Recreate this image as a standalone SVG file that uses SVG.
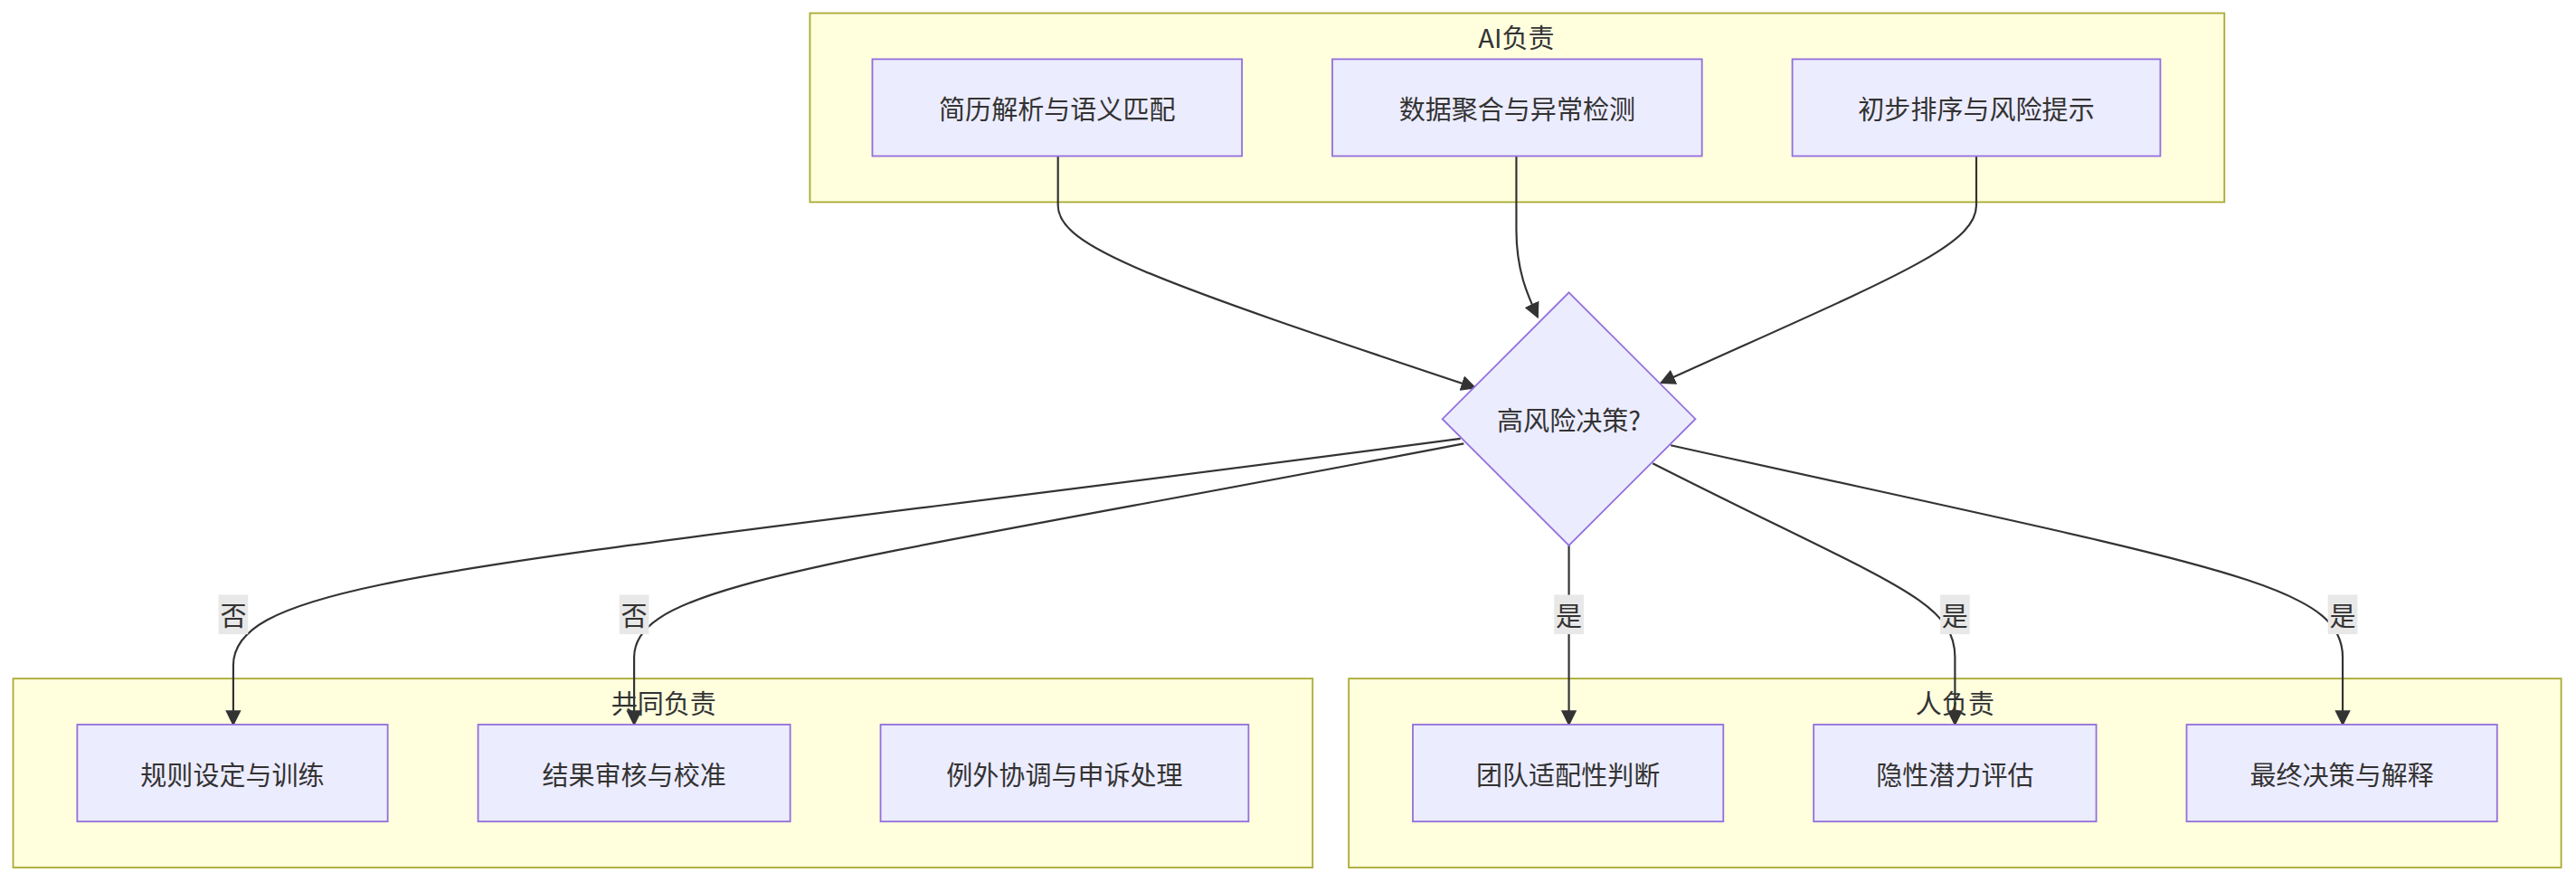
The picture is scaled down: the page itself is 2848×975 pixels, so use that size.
<svg xmlns="http://www.w3.org/2000/svg" width="2848" height="975" viewBox="0 0 2848 975">
<defs>
<style>
.cl{fill:#ffffde;stroke:#aaaa33;stroke-width:1}
.nd{fill:#ECECFF;stroke:#9370DB;stroke-width:1}
text{font-family:"Noto Sans CJK SC","Liberation Sans",sans-serif;font-size:16px;fill:#333;text-anchor:middle;dominant-baseline:central}
.e{fill:none;stroke:#333;stroke-width:1.2}
.lb{fill:#e8e8e8}
</style>
<marker id="ah" viewBox="0 0 10 10" refX="9" refY="5" markerWidth="8" markerHeight="8" orient="auto"><path d="M0,0 L10,5 L0,10 z" fill="#333"/></marker>
</defs>
<rect width="2848" height="975" fill="#fff"/>
<g transform="scale(1.8163)">
<g id="cluster-ai"><rect class="cl" x="493" y="8" width="861" height="115"/><text x="923" y="22">AI负责</text></g>
<g id="cluster-shared"><rect class="cl" x="8" y="413" width="791" height="115"/><text x="404" y="427">共同负责</text></g>
<g id="cluster-human"><rect class="cl" x="821" y="413" width="738" height="115"/><text x="1190" y="427">人负责</text></g>
<g id="connectors">
<path class="e" marker-end="url(#ah)" d="M644,95 L644,125 C644,150 700,170 898,236"/>
<path class="e" marker-end="url(#ah)" d="M923,95 L923,140 C923,165 930,180 936,193"/>
<path class="e" marker-end="url(#ah)" d="M1203,95 L1203,125 C1203,150 1150,170 1011,233"/>
<path class="e" marker-end="url(#ah)" d="M889,267 C300,345 142,350 142,405 L142,441"/>
<path class="e" marker-end="url(#ah)" d="M891,270 C500,345 386,355 386,400 L386,441"/>
<path class="e" marker-end="url(#ah)" d="M955,332 L955,441"/>
<path class="e" marker-end="url(#ah)" d="M1006,282 C1150,355 1190,365 1190,400 L1190,441"/>
<path class="e" marker-end="url(#ah)" d="M1017,271 C1350,345 1426,355 1426,400 L1426,441"/>
<rect class="lb" x="133" y="362" width="18" height="24"/><text x="142" y="374">否</text>
<rect class="lb" x="377" y="362" width="18" height="24"/><text x="386" y="374">否</text>
<rect class="lb" x="946" y="362" width="18" height="24"/><text x="955" y="374">是</text>
<rect class="lb" x="1181" y="362" width="18" height="24"/><text x="1190" y="374">是</text>
<rect class="lb" x="1417" y="362" width="18" height="24"/><text x="1426" y="374">是</text>
</g>
<g id="n1"><rect class="nd" x="531" y="36" width="225" height="59"/><text x="643.5" y="65.5">简历解析与语义匹配</text></g>
<g id="n2"><rect class="nd" x="811" y="36" width="225" height="59"/><text x="923.5" y="65.5">数据聚合与异常检测</text></g>
<g id="n3"><rect class="nd" x="1091" y="36" width="224" height="59"/><text x="1203" y="65.5">初步排序与风险提示</text></g>
<g id="decision"><polygon class="nd" points="955,178 1032,255 955,332 878,255"/><text x="955" y="255">高风险决策?</text></g>
<g id="s1"><rect class="nd" x="47" y="441" width="189" height="59"/><text x="141.5" y="470.5">规则设定与训练</text></g>
<g id="s2"><rect class="nd" x="291" y="441" width="190" height="59"/><text x="386" y="470.5">结果审核与校准</text></g>
<g id="s3"><rect class="nd" x="536" y="441" width="224" height="59"/><text x="648" y="470.5">例外协调与申诉处理</text></g>
<g id="h1"><rect class="nd" x="860" y="441" width="189" height="59"/><text x="954.5" y="470.5">团队适配性判断</text></g>
<g id="h2"><rect class="nd" x="1104" y="441" width="172" height="59"/><text x="1190" y="470.5">隐性潜力评估</text></g>
<g id="h3"><rect class="nd" x="1331" y="441" width="189" height="59"/><text x="1425.5" y="470.5">最终决策与解释</text></g>
</g>
</svg>
